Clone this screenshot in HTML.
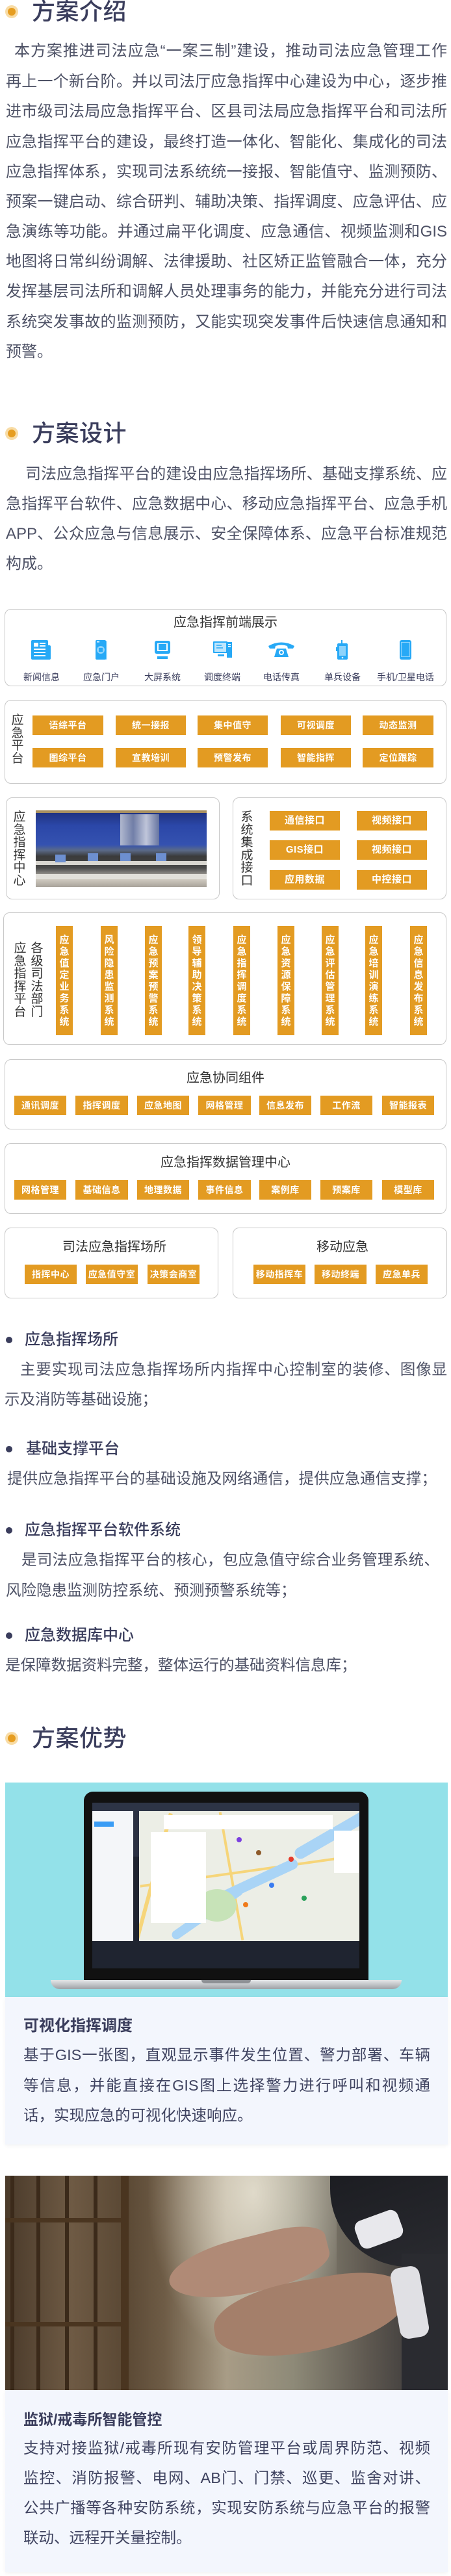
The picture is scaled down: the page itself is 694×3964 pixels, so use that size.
<!DOCTYPE html>
<html><head><meta charset="utf-8">
<style>
*{margin:0;padding:0;box-sizing:border-box}
body{width:694px;height:3964px;position:relative;background:#fff;font-family:"Liberation Sans","Noto Sans CJK SC",sans-serif;overflow:hidden}
.a{position:absolute}
.h{position:absolute;left:49px;font-size:36px;line-height:40px;color:#3a3d5c;font-weight:500;letter-spacing:0.5px}
.dot{position:absolute;left:8px;width:20px;height:20px;border-radius:50%;background:#f8dca6}
.dot:after{content:"";position:absolute;left:4px;top:4px;width:12px;height:12px;border-radius:50%;background:#e69d20}
.l{position:absolute;height:46px;line-height:46px;font-size:24px;color:#4e5266;white-space:nowrap;text-align:justify;text-align-last:justify}
.ll{text-align:left;text-align-last:left}
.bx{position:absolute;border:1.5px solid #c8c8c8;border-radius:10px;background:#fff}
.bt{position:absolute;background:#e39b22;color:#fff;font-size:14px;font-weight:bold;text-align:center;height:30px;line-height:30px;white-space:nowrap;letter-spacing:0.5px}
.tt{position:absolute;font-size:20px;color:#333;text-align:center;white-space:nowrap}
.vl{position:absolute;width:22px;font-size:19px;line-height:19.5px;color:#333;text-align:center}
.vb{position:absolute;top:1425px;width:26px;height:168px;background:#e39b22;color:#fff;font-size:15px;font-weight:bold;line-height:18px;text-align:center;display:flex;align-items:center;justify-content:center;padding-top:2px}
.ic{position:absolute;top:985px;width:40px;height:30px}
.lb{position:absolute;top:1030px;width:80px;text-align:center;font-size:14px;line-height:24px;color:#3a3d5c}
.bd{position:absolute;left:9px;width:10px;height:10px;border-radius:50%;background:#3a3d5c}
.bh{position:absolute;left:38px;font-size:24px;line-height:30px;color:#3a3d5c;font-weight:500}
.bl{position:absolute;height:46px;line-height:46px;font-size:23.5px;color:#4e5266;white-space:nowrap;text-align:justify;text-align-last:justify}
.card{position:absolute;left:8px;width:681px;background:#f3f6fd;box-shadow:0 2px 6px rgba(0,0,0,0.05)}
.cl{position:absolute;left:36px;width:626px;height:46px;line-height:46px;font-size:23.5px;color:#3f4360;white-space:nowrap;text-align:justify;text-align-last:justify}
</style></head><body>

<div class="dot" style="top:8px"></div>
<div class="h" style="top:-2px">方案介绍</div>
<div class="l" style="left:22px;width:666px;top:56px">本方案推进司法应急“一案三制”建设，推动司法应急管理工作</div>
<div class="l" style="left:9px;width:679px;top:103px">再上一个新台阶。并以司法厅应急指挥中心建设为中心，逐步推</div>
<div class="l" style="left:9px;width:679px;top:149px">进市级司法局应急指挥平台、区县司法局应急指挥平台和司法所</div>
<div class="l" style="left:9px;width:679px;top:196px">应急指挥平台的建设，最终打造一体化、智能化、集成化的司法</div>
<div class="l" style="left:9px;width:679px;top:242px">应急指挥体系，实现司法系统统一接报、智能值守、监测预防、</div>
<div class="l" style="left:9px;width:679px;top:288px">预案一键启动、综合研判、辅助决策、指挥调度、应急评估、应</div>
<div class="l" style="left:9px;width:679px;top:334px">急演练等功能。并通过扁平化调度、应急通信、视频监测和GIS</div>
<div class="l" style="left:9px;width:679px;top:380px">地图将日常纠纷调解、法律援助、社区矫正监管融合一体，充分</div>
<div class="l" style="left:9px;width:679px;top:426px">发挥基层司法所和调解人员处理事务的能力，并能充分进行司法</div>
<div class="l" style="left:9px;width:679px;top:473px">系统突发事故的监测预防，又能实现突发事件后快速信息通知和</div>
<div class="l ll" style="left:9px;top:519px">预警。</div>

<div class="dot" style="top:657px"></div>
<div class="h" style="top:647px">方案设计</div>
<div class="l" style="left:39px;width:649px;top:707px">司法应急指挥平台的建设由应急指挥场所、基础支撑系统、应</div>
<div class="l" style="left:9px;width:679px;top:753px">急指挥平台软件、应急数据中心、移动应急指挥平台、应急手机</div>
<div class="l" style="left:9px;width:679px;top:799px">APP、公众应急与信息展示、安全保障体系、应急平台标准规范</div>
<div class="l ll" style="left:9px;top:845px">构成。</div>

<div class="bx" style="left:7px;top:937px;width:680px;height:119px"></div>
<div class="tt" style="left:7px;width:680px;top:944px;line-height:28px">应急指挥前端展示</div>
<svg class="ic" style="left:44px" viewBox="0 0 40 30"><rect x="4" y="0" width="26" height="30" rx="2" fill="#27a9f6"/><rect x="26" y="8" width="8" height="22" rx="2" fill="#27a9f6"/><rect x="8" y="4" width="7" height="6" fill="#fff"/><rect x="17" y="4" width="9" height="2" fill="#fff"/><rect x="17" y="8" width="9" height="2" fill="#fff"/><rect x="8" y="13" width="18" height="2" fill="#fff"/><rect x="8" y="18" width="18" height="2" fill="#fff"/><rect x="8" y="23" width="18" height="2" fill="#fff"/></svg>
<svg class="ic" style="left:136px" viewBox="0 0 40 30"><rect x="15" y="1" width="14" height="29" rx="2" fill="#8ed3fb"/><rect x="11" y="0" width="16" height="30" rx="2" fill="#27a9f6"/><circle cx="19" cy="15" r="6" fill="#8ed3fb"/><rect x="16" y="12" width="6" height="6" fill="#27a9f6"/><rect x="13" y="2" width="4" height="1.5" fill="#fff"/></svg>
<svg class="ic" style="left:230px" viewBox="0 0 40 30"><rect x="8" y="1" width="24" height="20" rx="3" fill="#27a9f6"/><rect x="12" y="5" width="16" height="12" fill="#fff"/><rect x="14" y="6" width="12" height="9" fill="#27a9f6"/><rect x="12" y="25" width="16" height="4" fill="#27a9f6"/></svg>
<svg class="ic" style="left:322px" viewBox="0 0 40 30"><rect x="6" y="2" width="22" height="18" rx="1" fill="#27a9f6"/><rect x="8" y="4" width="18" height="14" fill="#bfe6fd"/><path d="M11 8h8M11 12h10" stroke="#27a9f6" stroke-width="1.5"/><rect x="27" y="3" width="8" height="24" fill="#27a9f6"/><rect x="13" y="22" width="10" height="3" fill="#27a9f6"/><rect x="29" y="6" width="4" height="1.5" fill="#fff"/><rect x="29" y="9" width="4" height="1.5" fill="#fff"/></svg>
<svg class="ic" style="left:413px" viewBox="0 0 40 30"><path d="M0 9 Q20 -2 40 9 L38 13 L30 13 L29 9 Q20 6 11 9 L10 13 L2 13 Z" fill="#27a9f6"/><path d="M9 26 L13 13 L27 13 L31 26 Z" fill="#27a9f6"/><circle cx="20" cy="19" r="4" fill="#fff"/><circle cx="20" cy="19" r="2" fill="#27a9f6"/></svg>
<svg class="ic" style="left:507px" viewBox="0 0 40 30"><rect x="18" y="-2" width="2" height="8" fill="#27a9f6"/><rect x="12" y="5" width="16" height="25" rx="2" fill="#27a9f6"/><rect x="10" y="11" width="3" height="6" fill="#27a9f6"/><rect x="15" y="9" width="10" height="15" fill="#8ed3fb"/><circle cx="20" cy="27" r="1.3" fill="#fff"/></svg>
<svg class="ic" style="left:604px" viewBox="0 0 40 30"><rect x="11" y="0" width="18" height="30" rx="3" fill="#27a9f6"/><rect x="13" y="3" width="14" height="23" fill="#8ed3fb"/><rect x="14" y="4" width="12" height="21" fill="#27a9f6"/></svg>
<div class="lb" style="left:24px">新闻信息</div>
<div class="lb" style="left:116px">应急门户</div>
<div class="lb" style="left:210px">大屏系统</div>
<div class="lb" style="left:302px">调度终端</div>
<div class="lb" style="left:393px">电话传真</div>
<div class="lb" style="left:487px">单兵设备</div>
<div class="lb" style="left:574px;width:100px">手机/卫星电话</div>

<div class="bx" style="left:7px;top:1077px;width:680px;height:129px"></div>
<div class="vl" style="left:16px;top:1099px">应<br>急<br>平<br>台</div>
<div class="bt" style="left:50px;top:1101px;width:109px">语综平台</div>
<div class="bt" style="left:178px;top:1101px;width:108px">统一接报</div>
<div class="bt" style="left:304px;top:1101px;width:108px">集中值守</div>
<div class="bt" style="left:432px;top:1101px;width:108px">可视调度</div>
<div class="bt" style="left:558px;top:1101px;width:109px">动态监测</div>
<div class="bt" style="left:50px;top:1151px;width:109px">图综平台</div>
<div class="bt" style="left:178px;top:1151px;width:108px">宣教培训</div>
<div class="bt" style="left:304px;top:1151px;width:108px">预警发布</div>
<div class="bt" style="left:432px;top:1151px;width:108px">智能指挥</div>
<div class="bt" style="left:558px;top:1151px;width:109px">定位跟踪</div>

<div class="bx" style="left:9px;top:1227px;width:329px;height:157px"></div>
<div class="vl" style="left:19px;top:1248px">应<br>急<br>指<br>挥<br>中<br>心</div>
<div class="a" style="left:55px;top:1247px;width:263px;height:118px;background:linear-gradient(180deg,#1e2f7a 0%,#2b47a8 20%,#3552b0 45%,#5a6a88 52%,#3a3a3a 60%,#4a4a4a 75%,#cfcac0 90%,#a8a29a 100%);overflow:hidden">
<div class="a" style="left:130px;top:6px;width:60px;height:48px;background:linear-gradient(90deg,#c8ccd6,#7d88a8,#d9dbe2,#6f7ba0);opacity:.85"></div>
<div class="a" style="left:0;top:78px;width:263px;height:6px;background:#d8d6d0"></div>
<div class="a" style="left:0;top:98px;width:263px;height:8px;background:#e2e0da"></div>
<div class="a" style="left:30px;top:68px;width:16px;height:12px;background:#6d8fd0"></div>
<div class="a" style="left:80px;top:66px;width:16px;height:12px;background:#6d8fd0"></div>
<div class="a" style="left:130px;top:66px;width:16px;height:12px;background:#6d8fd0"></div>
<div class="a" style="left:185px;top:66px;width:16px;height:12px;background:#6d8fd0"></div>
<div class="a" style="left:0;top:0;width:263px;height:4px;background:#a89060"></div>
</div>
<div class="bx" style="left:358px;top:1227px;width:329px;height:157px"></div>
<div class="vl" style="left:369px;top:1248px">系<br>统<br>集<br>成<br>接<br>口</div>
<div class="bt" style="left:415px;top:1248px;width:108px;font-size:15px">通信接口</div>
<div class="bt" style="left:549px;top:1248px;width:108px;font-size:15px">视频接口</div>
<div class="bt" style="left:415px;top:1293px;width:108px;font-size:15px">GIS接口</div>
<div class="bt" style="left:549px;top:1293px;width:108px;font-size:15px">视频接口</div>
<div class="bt" style="left:415px;top:1339px;width:108px;font-size:15px">应用数据</div>
<div class="bt" style="left:549px;top:1339px;width:108px;font-size:15px">中控接口</div>

<div class="bx" style="left:5px;top:1404px;width:682px;height:204px"></div>
<div class="vl" style="left:20px;top:1450px">应<br>急<br>指<br>挥<br>平<br>台</div>
<div class="vl" style="left:46px;top:1450px">各<br>级<br>司<br>法<br>部<br>门</div>
<div class="vb" style="left:86px">应<br>急<br>值<br>定<br>业<br>务<br>系<br>统</div>
<div class="vb" style="left:155px">风<br>险<br>隐<br>患<br>监<br>测<br>系<br>统</div>
<div class="vb" style="left:223px">应<br>急<br>预<br>案<br>预<br>警<br>系<br>统</div>
<div class="vb" style="left:290px">领<br>导<br>辅<br>助<br>决<br>策<br>系<br>统</div>
<div class="vb" style="left:359px">应<br>急<br>指<br>挥<br>调<br>度<br>系<br>统</div>
<div class="vb" style="left:427px">应<br>急<br>资<br>源<br>保<br>障<br>系<br>统</div>
<div class="vb" style="left:495px">应<br>急<br>评<br>估<br>管<br>理<br>系<br>统</div>
<div class="vb" style="left:562px">应<br>急<br>培<br>训<br>演<br>练<br>系<br>统</div>
<div class="vb" style="left:631px">应<br>急<br>信<br>息<br>发<br>布<br>系<br>统</div>

<div class="bx" style="left:7px;top:1630px;width:680px;height:108px"></div>
<div class="tt" style="left:7px;width:680px;top:1645px;line-height:28px">应急协同组件</div>
<div class="bt" style="left:22px;top:1686px;width:80px">通讯调度</div>
<div class="bt" style="left:116px;top:1686px;width:81px">指挥调度</div>
<div class="bt" style="left:211px;top:1686px;width:80px">应急地图</div>
<div class="bt" style="left:305px;top:1686px;width:81px">网格管理</div>
<div class="bt" style="left:399px;top:1686px;width:80px">信息发布</div>
<div class="bt" style="left:493px;top:1686px;width:80px">工作流</div>
<div class="bt" style="left:588px;top:1686px;width:80px">智能报表</div>

<div class="bx" style="left:7px;top:1759px;width:680px;height:109px"></div>
<div class="tt" style="left:7px;width:680px;top:1775px;line-height:28px">应急指挥数据管理中心</div>
<div class="bt" style="left:22px;top:1816px;width:80px">网格管理</div>
<div class="bt" style="left:116px;top:1816px;width:81px">基础信息</div>
<div class="bt" style="left:211px;top:1816px;width:80px">地理数据</div>
<div class="bt" style="left:305px;top:1816px;width:81px">事件信息</div>
<div class="bt" style="left:399px;top:1816px;width:80px">案例库</div>
<div class="bt" style="left:493px;top:1816px;width:80px">预案库</div>
<div class="bt" style="left:588px;top:1816px;width:80px">模型库</div>

<div class="bx" style="left:7px;top:1889px;width:329px;height:109px"></div>
<div class="tt" style="left:7px;width:338px;top:1905px;line-height:28px">司法应急指挥场所</div>
<div class="bt" style="left:38px;top:1946px;width:80px">指挥中心</div>
<div class="bt" style="left:132px;top:1946px;width:80px">应急值守室</div>
<div class="bt" style="left:227px;top:1946px;width:80px">决策会商室</div>
<div class="bx" style="left:358px;top:1889px;width:330px;height:109px"></div>
<div class="tt" style="left:358px;width:338px;top:1905px;line-height:28px">移动应急</div>
<div class="bt" style="left:390px;top:1946px;width:80px">移动指挥车</div>
<div class="bt" style="left:484px;top:1946px;width:80px">移动终端</div>
<div class="bt" style="left:578px;top:1946px;width:80px">应急单兵</div>

<div class="bd" style="top:2057px"></div>
<div class="bh" style="top:2047px">应急指挥场所</div>
<div class="bl" style="left:31px;width:657px;top:2084px">主要实现司法应急指挥场所内指挥中心控制室的装修、图像显</div>
<div class="bl ll" style="left:7px;top:2130px;text-align:left;text-align-last:left">示及消防等基础设施；</div>

<div class="bd" style="top:2225px"></div>
<div class="bh" style="top:2215px;left:40px">基础支撑平台</div>
<div class="bl" style="left:11px;width:661px;top:2252px">提供应急指挥平台的基础设施及网络通信，提供应急通信支撑；</div>

<div class="bd" style="top:2350px"></div>
<div class="bh" style="top:2340px">应急指挥平台软件系统</div>
<div class="bl" style="left:33px;width:643px;top:2377px">是司法应急指挥平台的核心，包应急值守综合业务管理系统、</div>
<div class="bl" style="left:9px;top:2424px;text-align:left;text-align-last:left">风险隐患监测防控系统、预测预警系统等；</div>

<div class="bd" style="top:2512px"></div>
<div class="bh" style="top:2502px">应急数据库中心</div>
<div class="bl" style="left:8px;top:2539px;text-align:left;text-align-last:left">是保障数据资料完整，整体运行的基础资料信息库；</div>

<div class="dot" style="top:2665px"></div>
<div class="h" style="top:2655px">方案优势</div>

<div class="a" style="left:8px;top:2743px;width:681px;height:330px;background:#93e1e9;overflow:hidden">
  <div class="a" style="left:121px;top:14px;width:438px;height:290px;background:#111;border-radius:14px 14px 0 0"></div>
  <div class="a" style="left:134px;top:31px;width:411px;height:255px;background:#1f2430"></div>
  <div class="a" style="left:134px;top:31px;width:411px;height:13px;background:#2d3446"></div>
  <div class="a" style="left:134px;top:44px;width:63px;height:200px;background:#f4f6f9"></div>
  <div class="a" style="left:137px;top:60px;width:30px;height:8px;background:#3a9cf5"></div>
  <div class="a" style="left:197px;top:44px;width:9px;height:70px;background:#2b3142"></div>
  <div class="a" style="left:206px;top:44px;width:339px;height:200px;background:#eceee6;overflow:hidden">
    <div class="a" style="left:20px;top:0;width:6px;height:200px;background:#f6d57a;transform:rotate(15deg)"></div>
    <div class="a" style="left:0;top:90px;width:339px;height:4px;background:#f6d57a;transform:rotate(-8deg)"></div>
    <div class="a" style="left:140px;top:0;width:4px;height:200px;background:#f6d57a;transform:rotate(-10deg)"></div>
    <div class="a" style="left:230px;top:20px;width:160px;height:18px;background:#a9d4f6;border-radius:9px;transform:rotate(-30deg)"></div>
    <div class="a" style="left:110px;top:100px;width:140px;height:16px;background:#a9d4f6;border-radius:8px;transform:rotate(-25deg)"></div>
    <div class="a" style="left:40px;top:150px;width:130px;height:14px;background:#a9d4f6;border-radius:7px;transform:rotate(-35deg)"></div>
    <div class="a" style="left:90px;top:120px;width:60px;height:50px;background:#c7e3b8;border-radius:50%"></div>
    <div class="a" style="left:38px;top:6px;width:260px;height:22px;background:#fff"></div>
    <div class="a" style="left:18px;top:32px;width:85px;height:140px;background:#fff"></div>
    <div class="a" style="left:300px;top:30px;width:38px;height:65px;background:#fff"></div>
    <div class="a" style="left:150px;top:40px;width:8px;height:8px;border-radius:50%;background:#7b3fe0"></div>
    <div class="a" style="left:180px;top:60px;width:8px;height:8px;border-radius:50%;background:#8d5a2a"></div>
    <div class="a" style="left:230px;top:70px;width:8px;height:8px;border-radius:50%;background:#e53a2a"></div>
    <div class="a" style="left:200px;top:110px;width:8px;height:8px;border-radius:50%;background:#3a7cf0"></div>
    <div class="a" style="left:250px;top:130px;width:8px;height:8px;border-radius:50%;background:#2aa05a"></div>
    <div class="a" style="left:160px;top:140px;width:8px;height:8px;border-radius:50%;background:#f07a1a"></div>
  </div>
  <div class="a" style="left:70px;top:304px;width:540px;height:14px;background:linear-gradient(#e4e6e8,#9ea1a5);border-radius:0 0 30px 30px"></div>
  <div class="a" style="left:302px;top:304px;width:76px;height:5px;background:#8d9094;border-radius:0 0 6px 6px"></div>
</div>
<div class="card" style="top:3073px;height:227px"></div>
<div class="bh" style="left:36px;top:3103px;font-weight:bold">可视化指挥调度</div>
<div class="cl" style="top:3139px">基于GIS一张图，直观显示事件发生位置、警力部署、车辆</div>
<div class="cl" style="top:3186px">等信息，并能直接在GIS图上选择警力进行呼叫和视频通</div>
<div class="cl" style="top:3232px;text-align:left;text-align-last:left">话，实现应急的可视化快速响应。</div>

<div class="a" style="left:8px;top:3348px;width:681px;height:330px;overflow:hidden;background:linear-gradient(90deg,#4a3a2a 0%,#6e5a44 15%,#5a4834 27%,#6e5c46 36%,#a89c86 50%,#8e8a78 65%,#5e5850 82%,#2a2a2e 100%)">
  <div class="a" style="left:190px;top:0;width:320px;height:330px;background:radial-gradient(ellipse at 60% 8%,rgba(240,235,220,.8),rgba(200,190,170,0) 60%)"></div>
  <div class="a" style="left:8px;top:0;width:6px;height:330px;background:#3b2a1a"></div>
  <div class="a" style="left:48px;top:0;width:6px;height:330px;background:#3b2a1a"></div>
  <div class="a" style="left:92px;top:0;width:6px;height:330px;background:#3b2a1a"></div>
  <div class="a" style="left:136px;top:0;width:6px;height:330px;background:#3b2a1a"></div>
  <div class="a" style="left:178px;top:0;width:12px;height:330px;background:#4a3520"></div>
  <div class="a" style="left:0;top:65px;width:185px;height:7px;background:#4a3520"></div>
  <div class="a" style="left:0;top:225px;width:185px;height:7px;background:#4a3520"></div>
  <div class="a" style="left:500px;top:0;width:181px;height:140px;background:linear-gradient(160deg,#1c1d22,#2a2b30);border-radius:0 0 0 120px"></div>
  <div class="a" style="left:610px;top:120px;width:71px;height:210px;background:#2a2b30"></div>
  <div class="a" style="left:250px;top:95px;width:250px;height:85px;background:#b08a76;border-radius:60% 40% 50% 70%;transform:rotate(-14deg)"></div>
  <div class="a" style="left:320px;top:160px;width:300px;height:110px;background:#a47f6a;border-radius:50% 40% 60% 50%;transform:rotate(-10deg)"></div>
  <div class="a" style="left:540px;top:60px;width:70px;height:45px;background:#e8e8ec;border-radius:12px;transform:rotate(-20deg)"></div>
  <div class="a" style="left:600px;top:140px;width:45px;height:110px;background:#e0e0e4;border-radius:14px;transform:rotate(-10deg)"></div>
</div>
<div class="card" style="top:3678px;height:280px"></div>
<div class="bh" style="left:36px;top:3708px;font-size:23px;font-weight:bold">监狱/戒毒所智能管控</div>
<div class="cl" style="top:3744px">支持对接监狱/戒毒所现有安防管理平台或周界防范、视频</div>
<div class="cl" style="top:3790px">监控、消防报警、电网、AB门、门禁、巡更、监舍对讲、</div>
<div class="cl" style="top:3836px">公共广播等各种安防系统，实现安防系统与应急平台的报警</div>
<div class="cl" style="top:3882px;text-align:left;text-align-last:left">联动、远程开关量控制。</div>

</body></html>
